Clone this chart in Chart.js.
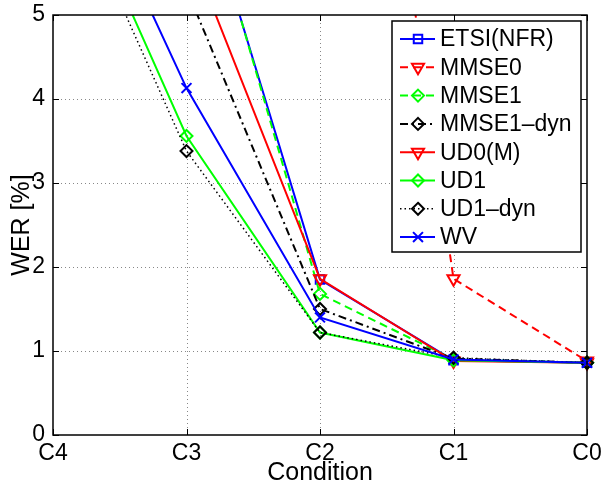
<!DOCTYPE html>
<html>
<head>
<meta charset="utf-8">
<script src="https://cdn.jsdelivr.net/npm/chart.js@4.4.1/dist/chart.umd.min.js"></script>
<style>
  html, body { margin: 0; padding: 0; background: #fff; }
  #wrap { width: 602px; height: 488px; }
</style>
</head>
<body>
<div id="wrap"><canvas id="werChart" width="602" height="488"></canvas></div>
<script>
// Данные (значения выше 5 обрезаны на исходном графике, оценены по наклону линий)
var conditions = ['C4', 'C3', 'C2', 'C1', 'C0'];
var etsiNfr   = [12.0, 7.08, 1.85, 0.89, 0.86];
var mmse0     = [18.0, 15.5, 12.9, 1.86, 0.88];
var mmse1     = [12.5, 7.20, 1.68, 0.90, 0.86];
var mmse1Dyn  = [8.5, 5.31, 1.50, 0.91, 0.86];
var ud0M      = [9.5, 5.88, 1.86, 0.88, 0.86];
var ud1       = [7.13, 3.56, 1.22, 0.89, 0.86];
var ud1Dyn    = [6.94, 3.38, 1.22, 0.92, 0.86];
var wv        = [7.56, 4.13, 1.40, 0.90, 0.86];
var yTicks    = [0, 1, 2, 3, 4, 5];

var FONT = '"Liberation Sans", Arial, Helvetica, sans-serif';
var FONT_SIZE = 23;
var TITLE_SIZE = 25;

function series(label, data, color, dash, style, rot, radius, width) {
    return {
        label: label,
        data: data,
        borderColor: color,
        borderWidth: width || 2,
        borderDash: dash,
        pointStyle: style,
        pointRotation: rot,
        pointRadius: radius,
        pointBorderColor: color,
        pointBorderWidth: 2,
        pointBackgroundColor: 'rgba(0,0,0,0)',
        tension: 0,
        fill: false
    };
}

var datasets = [
    series('ETSI(NFR)', etsiNfr, '#0000ff', [], 'rect', 0, 6),
    series('MMSE0', mmse0, '#ff0000', [8, 5], 'triangle', 180, 7),
    series('MMSE1', mmse1, '#00ff00', [8, 5], 'rectRot', 0, 6),
    series('MMSE1\u2013dyn', mmse1Dyn, '#000000', [8, 4, 2, 4], 'rectRot', 0, 6),
    series('UD0(M)', ud0M, '#ff0000', [], 'triangle', 180, 7),
    series('UD1', ud1, '#00ff00', [], 'rectRot', 0, 6),
    series('UD1\u2013dyn', ud1Dyn, '#000000', [1.5, 3], 'rectRot', 0, 6, 1.5),
    series('WV', wv, '#0000ff', [], 'crossRot', 0, 7)
];
// как в MATLAB: последняя серия рисуется поверх
datasets.forEach(function (d, i) { d.order = datasets.length - 1 - i; });

// Рисование маркера (для легенды)
function drawMarker(ctx, style, x, y, r, rotDeg) {
    var rad = (rotDeg || 0) * Math.PI / 180;
    ctx.beginPath();
    if (style === 'rect') {
        var s = r * Math.SQRT1_2;
        ctx.rect(x - s, y - s, 2 * s, 2 * s);
    } else if (style === 'rectRot') {
        ctx.moveTo(x, y - r); ctx.lineTo(x + r, y); ctx.lineTo(x, y + r); ctx.lineTo(x - r, y);
        ctx.closePath();
    } else if (style === 'triangle') {
        for (var k = 0; k < 3; k++) {
            var a = rad + k * 2 * Math.PI / 3;
            var px = x + Math.sin(a) * r, py = y - Math.cos(a) * r;
            if (k === 0) ctx.moveTo(px, py); else ctx.lineTo(px, py);
        }
        ctx.closePath();
    } else if (style === 'crossRot') {
        var o = r * Math.SQRT1_2;
        ctx.moveTo(x - o, y - o); ctx.lineTo(x + o, y + o);
        ctx.moveTo(x + o, y - o); ctx.lineTo(x - o, y + o);
    }
    ctx.stroke();
}

// Рамка, сетка, внутренние засечки и легенда в стиле MATLAB
var matlabFrame = {
    id: 'matlabFrame',
    beforeDatasetsDraw: function (chart) {
        var ctx = chart.ctx, a = chart.chartArea;
        var xs = chart.scales.x, ys = chart.scales.y;
        ctx.save();
        ctx.strokeStyle = '#888';
        ctx.lineWidth = 1;
        ctx.setLineDash([1, 3]);
        for (var i = 1; i < conditions.length - 1; i++) {
            var px = Math.round(xs.getPixelForValue(i)) + 0.5;
            ctx.beginPath(); ctx.moveTo(px, a.top); ctx.lineTo(px, a.bottom); ctx.stroke();
        }
        for (var j = 1; j < yTicks.length - 1; j++) {
            var py = Math.round(ys.getPixelForValue(yTicks[j])) + 0.5;
            ctx.beginPath(); ctx.moveTo(a.left, py); ctx.lineTo(a.right, py); ctx.stroke();
        }
        ctx.restore();
    },
    afterDatasetsDraw: function (chart) {
        var ctx = chart.ctx, a = chart.chartArea;
        var xs = chart.scales.x, ys = chart.scales.y;
        var tl = 6;
        ctx.save();
        ctx.setLineDash([]);
        ctx.strokeStyle = '#000';
        ctx.lineWidth = 1.5;
        ctx.strokeRect(a.left, a.top, a.right - a.left, a.bottom - a.top);
        ctx.lineWidth = 1;
        ctx.beginPath();
        for (var i = 0; i < conditions.length; i++) {
            var px = Math.round(xs.getPixelForValue(i)) + 0.5;
            ctx.moveTo(px, a.bottom); ctx.lineTo(px, a.bottom - tl);
            ctx.moveTo(px, a.top); ctx.lineTo(px, a.top + tl);
        }
        for (var j = 0; j < yTicks.length; j++) {
            var py = Math.round(ys.getPixelForValue(yTicks[j])) + 0.5;
            ctx.moveTo(a.left, py); ctx.lineTo(a.left + tl, py);
            ctx.moveTo(a.right, py); ctx.lineTo(a.right - tl, py);
        }
        ctx.stroke();

        // Легенда
        var lx = 392, ly = 21, lw = 189, lh = 231, row = 28.3;
        ctx.fillStyle = '#fff';
        ctx.fillRect(lx, ly, lw, lh);
        ctx.lineWidth = 1.5;
        ctx.strokeRect(lx, ly, lw, lh);
        ctx.font = FONT_SIZE + 'px ' + FONT;
        ctx.textBaseline = 'middle';
        ctx.textAlign = 'left';
        datasets.forEach(function (d, k) {
            var cy = ly + 18 + k * row;
            ctx.strokeStyle = d.borderColor;
            ctx.lineWidth = d.borderWidth;
            ctx.setLineDash(d.borderDash);
            ctx.beginPath(); ctx.moveTo(lx + 8, cy); ctx.lineTo(lx + 43, cy); ctx.stroke();
            ctx.setLineDash([]);
            ctx.lineWidth = 2;
            drawMarker(ctx, d.pointStyle, lx + 26, cy, d.pointRadius, d.pointRotation);
            ctx.fillStyle = '#000';
            ctx.fillText(d.label, lx + 48, cy + 1);
        });
        ctx.restore();
    }
};

var werChart = new Chart(document.getElementById('werChart').getContext('2d'), {
    type: 'line',
    data: { labels: conditions, datasets: datasets },
    options: {
        responsive: false,
        animation: false,
        layout: { padding: { top: 15, right: 15, left: 0, bottom: 0 } },
        scales: {
            x: {
                offset: false,
                grid: { display: false, drawTicks: false },
                border: { display: false },
                ticks: {
                    color: '#000', padding: 5, maxRotation: 0, autoSkip: false,
                    font: { family: FONT, size: FONT_SIZE }
                },
                title: {
                    display: true, text: 'Condition', color: '#000',
                    padding: { top: 0, bottom: 0 },
                    font: { family: FONT, size: TITLE_SIZE }
                },
                afterFit: function (s) {
                    s.height = 53;
                    s.paddingLeft = 0; s.paddingRight = 0;
                }
            },
            y: {
                min: 0, max: 5,
                grid: { display: false, drawTicks: false },
                border: { display: false },
                ticks: {
                    stepSize: 1, color: '#000', padding: 8,
                    font: { family: FONT, size: FONT_SIZE }
                },
                title: {
                    display: true, text: 'WER [%]', color: '#000',
                    padding: { top: 7, bottom: 0 },
                    font: { family: FONT, size: TITLE_SIZE }
                },
                afterFit: function (s) {
                    s.width = 53;
                    s.paddingTop = 0; s.paddingBottom = 0;
                }
            }
        },
        plugins: {
            legend: { display: false },
            tooltip: { enabled: false }
        }
    },
    plugins: [matlabFrame]
});
</script>
</body>
</html>
